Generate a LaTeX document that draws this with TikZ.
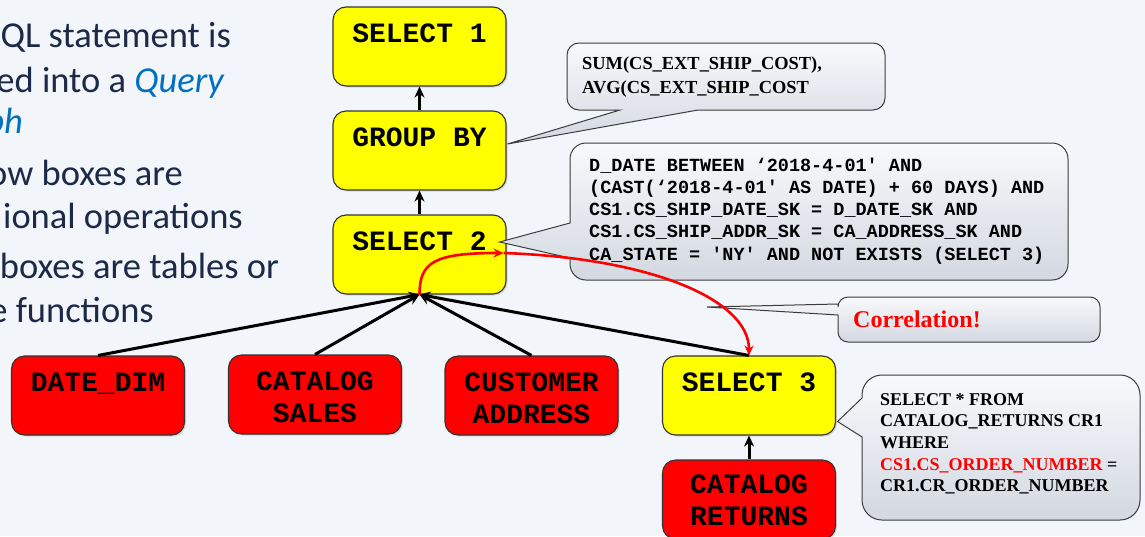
\documentclass[tikz,border=0pt]{standalone}
\usepackage{fontspec}
\setmainfont{Liberation Serif}
\newfontfamily\carl{Carlito}
\newfontfamily\cour{Liberation Mono}
\usetikzlibrary{arrows.meta,shadows,calc}

\definecolor{pagebg}{HTML}{F2F5F9}
\definecolor{navy}{HTML}{1C2A48}
\definecolor{qblue}{HTML}{0070C0}
\definecolor{boxline}{HTML}{333333}
\definecolor{opyellow}{HTML}{FFFF00}
\definecolor{tabred}{HTML}{FF0000}
\definecolor{ctop}{HTML}{F8F9FB}
\definecolor{cbot}{HTML}{D3D8E1}
\definecolor{cline}{HTML}{3C3C3C}

% fixed word spaces inside aligned nodes
\newcommand\monospacing{\spaceskip=0.6em\relax}
\newcommand\serifspacing{\spaceskip=0.25em\relax}

% rounded note with its pointer on the left edge:
% #1 x0, #2 y0, #3 x1, #4 y1, #5 radius, #6/#7 pointer base (y), #8 tip
\newcommand\calloutL[8]{%
  \path[bubble] (#1,#6) -- #8 -- (#1,#7) -- (#1,#4-#5)
    arc[start angle=180,end angle=270,radius=#5pt] -- (#3-#5,#4)
    arc[start angle=270,end angle=360,radius=#5pt] -- (#3,#2+#5)
    arc[start angle=0,end angle=90,radius=#5pt] -- (#1+#5,#2)
    arc[start angle=90,end angle=180,radius=#5pt] -- cycle;}
% rounded note with its pointer on the bottom edge:
% #6/#7 pointer base (x), #8 tip
\newcommand\calloutB[8]{%
  \path[bubble] (#7,#4) -- #8 -- (#6,#4) -- (#1+#5,#4)
    arc[start angle=270,end angle=180,radius=#5pt] -- (#1,#2+#5)
    arc[start angle=180,end angle=90,radius=#5pt] -- (#3-#5,#2)
    arc[start angle=90,end angle=0,radius=#5pt] -- (#3,#4-#5)
    arc[start angle=0,end angle=-90,radius=#5pt] -- cycle;}

\begin{document}
\begin{tikzpicture}[x=1pt,y=-1pt,
  bullet/.style={anchor=base east, inner sep=0pt, text=navy,
    font=\carl\fontsize{36.5}{44}\selectfont},
  opbox/.style={draw=boxline, line width=1.1pt, rounded corners=13pt,
    text width=173pt, align=center, inner sep=0pt,
    text height=35pt, text depth=44pt,
    font=\cour\bfseries\fontsize{28}{32}\selectfont,
    drop shadow={shadow xshift=1.5pt,shadow yshift=-1.5pt,opacity=0.25}},
  yop/.style={opbox, fill=opyellow},
  rtab/.style={opbox, fill=tabred},
  flow/.style={line width=3pt, -{Stealth[length=11pt,width=10pt]}},
  corr/.style={draw=red, line width=2.6pt, -{Stealth[length=10pt,width=9pt]}},
  bubble/.style={draw=cline, line width=1pt, top color=ctop, bottom color=cbot},
  note/.style={anchor=base west, inner sep=0pt, align=left}]

\fill[pagebg] (0,0) rectangle (1145,536);
\useasboundingbox (0,0) rectangle (1145,536);

% bullet text on the left
\node[bullet] (t1) at (231,47) {QL statement is};
\node[bullet] (t2) at (224,92) {ed into a {\color{qblue}\itshape Query}};
\node[bullet] (t3) at (23,133) {\color{qblue}\itshape ph};
\node[bullet] (t4) at (183,185) {ow boxes are};
\node[bullet] (t5) at (243,228) {ional operations};
\node[bullet] (t6) at (279,278) {boxes are tables or};
\node[bullet] (t7) at (154,322) {e functions};

% operators and tables
\node[yop] (s1) at (419.5,46.5) {\monospacing SELECT 1};
\node[yop] (gb) at (419.5,150.5) {\monospacing GROUP BY};
\node[yop] (s2) at (419.5,254.5) {\monospacing SELECT 2};
\node[rtab] (dd) at (98,395.5) {DATE\_DIM};
\node[rtab] (cs) at (315,394.5) {CATALOG\\SALES};
\node[rtab] (ca) at (531.5,395.5) {CUSTOMER\\ADDRESS};
\node[yop] (s3) at (749,395.5) {\monospacing SELECT 3};
\node[rtab, text height=33pt, text depth=46pt] (cr) at (749,499.5) {CATALOG\\RETURNS};

% data flow
\draw[flow] (gb.north) -- (s1.south);
\draw[flow] (s2.north) -- (gb.south);
\draw[flow] (dd.north) -- (s2.south);
\draw[flow] (cs.north) -- (s2.south);
\draw[flow] (ca.north) -- (s2.south);
\draw[flow] (s3.north) -- (s2.south);
\draw[flow] (cr.north) -- (s3.south);

% notes
\coordinate (tipA) at ($(gb.east)+(1,-6.5)$);
\coordinate (tipB) at ($(s2.east)+(-7,-12.5)$);
\coordinate (tipC) at (707,307);
\coordinate (tipD) at ($(s3.east)+(1.5,26)$);
\calloutB{567}{43}{885}{110}{12}{620}{698}{(tipA)}
\calloutL{570}{143}{1068}{280}{16}{223}{258}{(tipB)}
\calloutL{838}{297}{1100}{342}{10}{304}{315}{(tipC)}
\calloutL{862}{375}{1140}{520}{20}{398}{437}{(tipD)}

\node[note, text width=300pt, font=\bfseries\fontsize{18.4}{24}\selectfont] (sumtxt) at (582,69)
  {\serifspacing SUM(CS\_EXT\_SHIP\_COST),\\AVG(CS\_EXT\_SHIP\_COST};
\node[note, text width=475pt, font=\cour\bfseries\fontsize{18.5}{22.3}\selectfont] (wheretxt) at (589,171)
  {\monospacing D\_DATE BETWEEN ‘2018-4-01' AND\\(CAST(‘2018-4-01' AS DATE) + 60 DAYS) AND\\CS1.CS\_SHIP\_DATE\_SK = D\_DATE\_SK AND\\CS1.CS\_SHIP\_ADDR\_SK = CA\_ADDRESS\_SK AND\\CA\_STATE = 'NY' AND NOT EXISTS (SELECT 3)};
\node[note, text=red, font=\bfseries\fontsize{24}{28}\selectfont] (corrtxt) at (853,327) {Correlation!};
\node[note, text width=258pt, font=\bfseries\fontsize{18}{21.7}\selectfont] (subtxt) at (880,405)
  {\serifspacing SELECT * FROM\\CATALOG\_RETURNS CR1\\WHERE\\{\color{red}CS1.CS\_ORDER\_NUMBER} =\\CR1.CR\_ORDER\_NUMBER};

% correlated reference from SELECT 3 into SELECT 2
\coordinate (cpt) at ($(s2.east)+(-3,-1.5)$);
\draw[corr] (s2.south) .. controls +(0,-32) and +(-70,0) .. (cpt);
\draw[corr] (cpt) .. controls +(147,5) and +(0,-56) .. (s3.north);
\end{tikzpicture}
\end{document}
